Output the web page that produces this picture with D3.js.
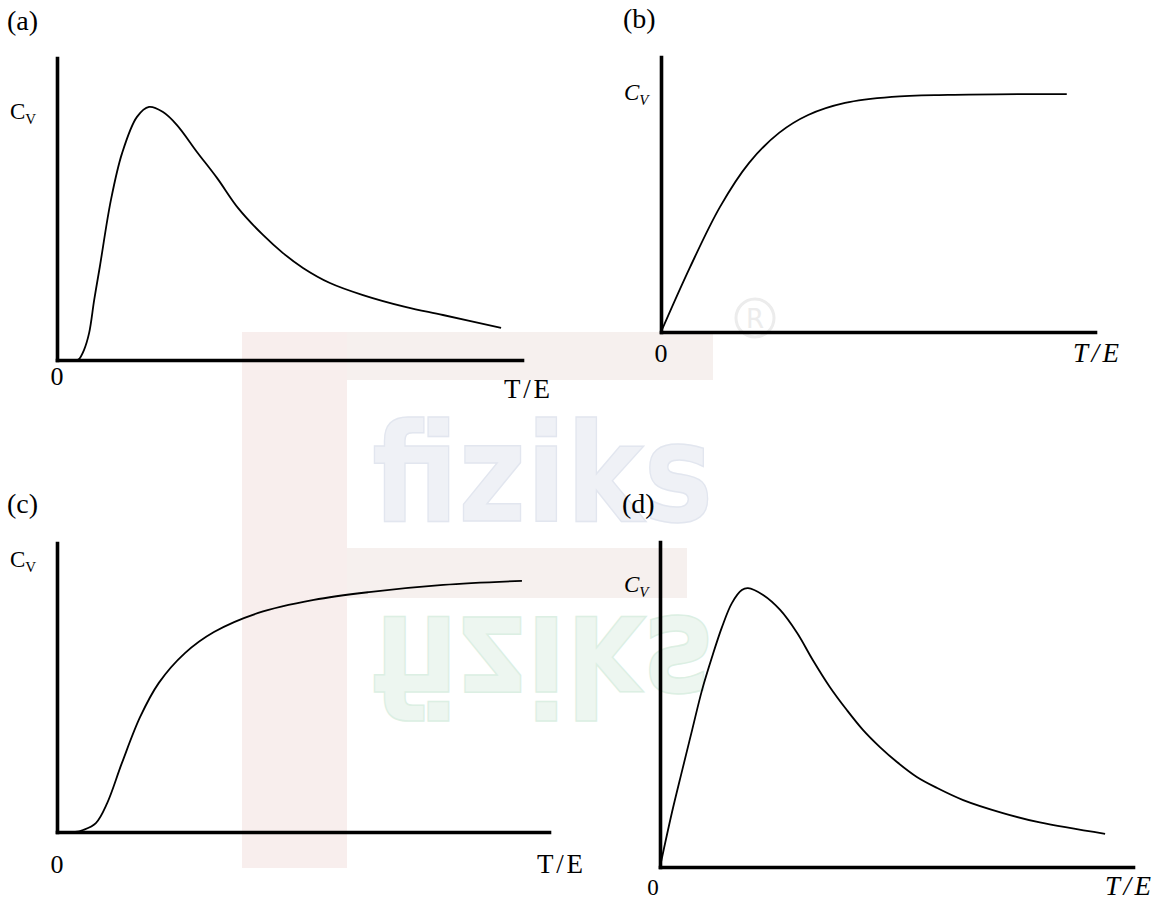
<!DOCTYPE html>
<html>
<head>
  <meta charset="utf-8">
  <title>Cv vs T/E</title>
  <script src="https://d3js.org/d3.v7.min.js"></script>
  <style>
    body { margin: 0; background: #fff; }
    svg text { font-family: "Liberation Serif", "Times New Roman", serif; fill: #000; }
    .axis path { stroke: #000; stroke-width: 3.6px; stroke-linecap: square; }
    .axis line { display: none; }
    .curve { fill: none; stroke: #000; stroke-width: 1.8px; }
  </style>
</head>
<body>
<script>
  // panel tags and labels
  var panelTags = ["(a)", "(b)", "(c)", "(d)"];
  var italicLabels = [false, true, false, true];

  // (a) rises from zero, peaks, decays
  var aT  = [0, 0.40, 0.47, 0.58, 0.69, 0.80, 0.92, 1.16, 1.40, 1.72, 1.98, 2.28, 2.58, 3.01, 3.44, 3.90, 4.43, 4.86, 5.29, 5.87, 6.58, 7.51, 8.30, 9.55];
  var aCv = [0, 0, 0.03, 0.33, 0.89, 1.99, 3.08, 5.30, 6.85, 8.05, 8.38, 8.21, 7.78, 6.89, 6.03, 5.02, 4.14, 3.54, 3.05, 2.55, 2.15, 1.75, 1.49, 1.06];

  // (b) linear start, saturates
  var bT  = [0, 0.67, 1.36, 2.03, 2.72, 3.39, 4.24, 5.32, 6.61, 8.29, 9.35];
  var bCv = [0, 2.36, 4.55, 6.15, 7.24, 7.89, 8.33, 8.55, 8.62, 8.65, 8.65];

  // (c) exponentially flat start, saturates
  var cT  = [0, 0.37, 0.53, 0.79, 1.02, 1.32, 1.69, 2.07, 2.60, 3.19, 4.09, 5.22, 6.34, 7.85, 9.45];
  var cCv = [0, 0, 0.07, 0.31, 1.00, 2.39, 3.98, 5.16, 6.19, 6.92, 7.58, 8.03, 8.30, 8.55, 8.69];

  // (d) linear start, peaks, decays
  var dT  = [0, 0.25, 0.47, 0.68, 0.89, 1.10, 1.31, 1.52, 1.73, 1.86, 2.18, 2.54, 2.90, 3.23, 3.59, 3.95, 4.29, 4.65, 5.01, 5.43, 5.86, 6.41, 7.25, 8.03, 9.41];
  var dCv = [0, 1.66, 2.98, 4.22, 5.45, 6.46, 7.38, 8.12, 8.52, 8.58, 8.37, 7.91, 7.20, 6.37, 5.54, 4.83, 4.22, 3.69, 3.23, 2.77, 2.43, 2.06, 1.66, 1.37, 1.02];

  var seriesT = [aT, bT, cT, dT];
  var seriesCv = [aCv, bCv, cCv, dCv];

  // pixel frame of each panel: left, right, bottom, top
  var frames = [
    { x0: 57,  x1: 522,  y0: 360, y1: 58,  tag: [7, 30],    cv: [10, 119],  zero: [57, 385],  te: [504, 398],  fs0: 26 },
    { x0: 661, x1: 1095, y0: 332, y1: 57,  tag: [623, 28],  cv: [624, 100], zero: [661, 362], te: [1073, 362], fs0: 26 },
    { x0: 57,  x1: 549,  y0: 832, y1: 543, tag: [7, 513],   cv: [10, 567],  zero: [57, 873],  te: [537, 873],  fs0: 26 },
    { x0: 660, x1: 1133, y0: 867, y1: 542, tag: [622, 513], cv: [624, 592], zero: [653, 895], te: [1105, 895], fs0: 23 }
  ];

  var svg = d3.select("body").append("svg")
    .attr("width", 1157)
    .attr("height", 901);

  // faint "fiziks" watermark behind everything
  var wm = svg.append("g").attr("class", "watermark");
  wm.append("rect").attr("x", 242).attr("y", 332).attr("width", 471).attr("height", 48)
    .attr("fill", "#f6f0ee");
  wm.append("rect").attr("x", 242).attr("y", 332).attr("width", 105).attr("height", 536)
    .attr("fill", "#f8eeed");
  wm.append("rect").attr("x", 347).attr("y", 548).attr("width", 340).attr("height", 50)
    .attr("fill", "#f6f0ee");
  wm.append("text").attr("x", 372).attr("y", 521)
    .attr("textLength", 341).attr("lengthAdjust", "spacingAndGlyphs")
    .style("font-family", "'DejaVu Sans', sans-serif").style("font-weight", "bold")
    .style("font-size", "138px").style("fill", "#eff1f6")
    .style("stroke", "#e2e6ef").style("stroke-width", 1.5)
    .text("fiziks");
  wm.append("g").attr("transform", "translate(0,1138) scale(1,-1)")
    .append("text").attr("x", 372).attr("y", 521)
    .attr("textLength", 341).attr("lengthAdjust", "spacingAndGlyphs")
    .style("font-family", "'DejaVu Sans', sans-serif").style("font-weight", "bold")
    .style("font-size", "138px").style("fill", "#edf6f0")
    .style("stroke", "#dcefe3").style("stroke-width", 1.5)
    .text("fiziks");
  wm.append("circle").attr("cx", 755).attr("cy", 318).attr("r", 19)
    .attr("fill", "none").attr("stroke", "#ececec").attr("stroke-width", 3);
  wm.append("text").attr("x", 755).attr("y", 328).attr("text-anchor", "middle")
    .style("font-family", "'DejaVu Sans', sans-serif").style("font-size", "26px")
    .style("fill", "#ececec").text("R");

  frames.forEach(function(f, i) {
    var x = d3.scaleLinear().domain([0, 10]).range([f.x0, f.x1]);
    var y = d3.scaleLinear().domain([0, 10]).range([f.y0, f.y1]);
    var g = svg.append("g");
    var italic = italicLabels[i];

    g.append("g")
      .attr("class", "axis")
      .attr("transform", "translate(0," + f.y0 + ")")
      .call(d3.axisBottom(x).tickValues([]).tickSizeOuter(0));
    g.append("g")
      .attr("class", "axis")
      .attr("transform", "translate(" + f.x0 + ",0)")
      .call(d3.axisLeft(y).tickValues([]).tickSizeOuter(0));

    var pts = d3.zip(seriesT[i], seriesCv[i]);
    var line = d3.line()
      .x(function(d) { return x(d[0]); })
      .y(function(d) { return y(d[1]); })
      .curve(d3.curveCatmullRom.alpha(0.5));
    g.append("path").attr("class", "curve").attr("d", line(pts));

    // labels
    g.append("text").attr("x", f.tag[0]).attr("y", f.tag[1])
      .style("font-size", "28px").text(panelTags[i]);

    var cv = g.append("text").attr("x", f.cv[0]).attr("y", f.cv[1])
      .style("font-size", "23px")
      .style("font-style", italic ? "italic" : "normal");
    cv.append("tspan").text("C");
    cv.append("tspan").attr("dy", 5).style("font-size", "15px").text("V");

    g.append("text").attr("x", f.zero[0]).attr("y", f.zero[1])
      .attr("text-anchor", "middle")
      .style("font-size", f.fs0 + "px").text("0");

    g.append("text").attr("x", f.te[0]).attr("y", f.te[1])
      .attr("textLength", 46).attr("lengthAdjust", "spacing")
      .style("font-size", "27px")
      .style("font-style", italic ? "italic" : "normal")
      .text("T/E");
  });
</script>
</body>
</html>
